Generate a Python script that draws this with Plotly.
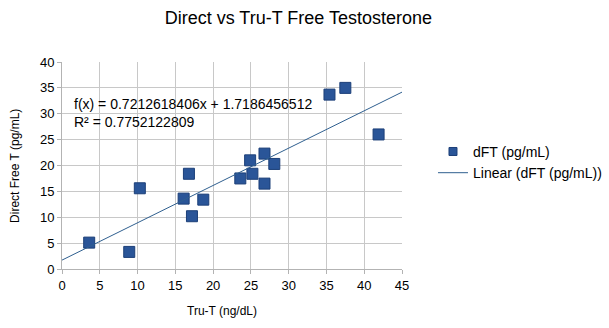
import plotly.graph_objects as go

# Tru-T (ng/dL) vs direct free testosterone (pg/mL)
tru_t = [3.6, 8.9, 10.3, 16.1, 16.8, 17.2, 18.7, 23.6, 24.9, 25.2, 26.8, 26.8, 28.1, 35.4, 37.5, 41.9]
dft = [5.1, 3.3, 15.6, 13.6, 18.4, 10.2, 13.4, 17.5, 21.0, 18.4, 22.3, 16.5, 20.3, 33.7, 35.0, 26.0]

# Linear trend coefficients
slope = 0.7212618406
intercept = 1.7186456512
r_squared = 0.7752122809

x_ticks = [0, 5, 10, 15, 20, 25, 30, 35, 40, 45]
y_ticks = [0, 5, 10, 15, 20, 25, 30, 35, 40]

font = "Liberation Sans, Arial, sans-serif"
marker_color = "#2a5598"
marker_edge = "#1c3f78"

fig = go.Figure()
fig.add_trace(go.Scatter(
    x=tru_t, y=dft, mode="markers", name="dFT (pg/mL)", showlegend=False,
    marker=dict(symbol="square", size=11, color=marker_color,
                line=dict(color=marker_edge, width=1)),
))
# legend-only entry with a smaller swatch
fig.add_trace(go.Scatter(
    x=[None], y=[None], mode="markers", name="dFT (pg/mL)",
    marker=dict(symbol="square", size=8, color=marker_color,
                line=dict(color=marker_edge, width=1)),
))
line_x = [x_ticks[0], x_ticks[-1]]
fig.add_trace(go.Scatter(
    x=line_x, y=[slope * v + intercept for v in line_x], mode="lines",
    name="Linear (dFT (pg/mL))", line=dict(color="#2f5f8f", width=1),
))

fig.add_annotation(
    x=0.028, y=0.845, xref="paper", yref="paper", xanchor="left", yanchor="top",
    align="left", showarrow=False,
    text=f"f(x) = {slope}x + {intercept}<br>R² = {r_squared}",
    font=dict(family=font, size=14, color="#000"),
)

# axis titles
fig.add_annotation(
    x=0.47, y=-0.205, xref="paper", yref="paper", xanchor="center", yanchor="middle",
    showarrow=False, text="Tru-T (ng/dL)", font=dict(family=font, size=12, color="#000"),
)
fig.add_annotation(
    x=-0.14, y=0.5, xref="paper", yref="paper", xanchor="center", yanchor="middle",
    showarrow=False, textangle=-90, text="Direct Free T (pg/mL)",
    font=dict(family=font, size=12, color="#000"),
)

axis_common = dict(
    showgrid=True, gridcolor="#c8c8c8", gridwidth=1,
    showline=True, linecolor="#b3b3b3", linewidth=1, mirror=False,
    ticks="outside", ticklen=4, tickcolor="#b3b3b3",
    tickfont=dict(family=font, size=13, color="#000"),
    zeroline=False,
)

fig.update_layout(
    width=609, height=328,
    margin=dict(l=62, r=207, t=62, b=59, autoexpand=False),
    paper_bgcolor="white", plot_bgcolor="white",
    title=dict(text="Direct vs Tru-T Free Testosterone", x=0.49, xanchor="center",
               y=0.945, yanchor="middle", font=dict(family=font, size=18, color="#000")),
    xaxis=dict(range=[0, 45], tickvals=x_ticks, **axis_common),
    yaxis=dict(range=[0, 40], tickvals=y_ticks, **axis_common),
    legend=dict(x=0.711, y=0.515, xref="container", xanchor="left", yanchor="middle",
                font=dict(family=font, size=14, color="#000"),
                tracegroupgap=0, itemwidth=30),
    showlegend=True,
)

fig.write_html("out.html")
